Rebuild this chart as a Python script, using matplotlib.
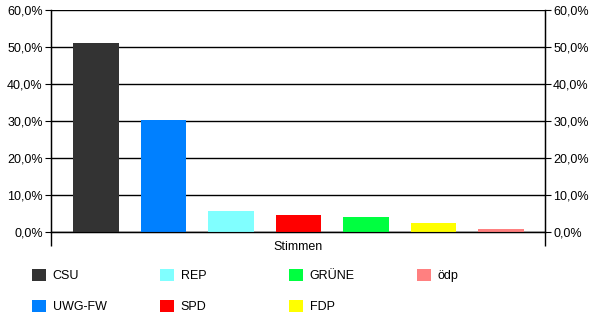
import matplotlib.pyplot as plt
from matplotlib.ticker import FuncFormatter

plt.rcParams['font.family'] = ['Liberation Sans', 'DejaVu Sans']

# Daten
parteien = ['CSU', 'UWG-FW', 'REP', 'SPD', 'GRÜNE', 'FDP', 'ödp']
anteile = [51.1, 30.3, 5.7, 4.6, 4.0, 2.4, 0.8]
farben = ['#333333', '#0080FF', '#80FFFF', '#FF0000', '#00FF40', '#FFFF00', '#FF8080']
y_ticks = [0, 10, 20, 30, 40, 50, 60]

fig = plt.figure(figsize=(6, 3.26), dpi=100)
ax = fig.add_axes([0.085, 0.288, 0.823, 0.681])

x = list(range(len(parteien)))
bars = ax.bar(x, anteile, width=0.68, color=farben, zorder=3)

xmin, xmax = -0.667, 6.65
ax.set_xlim(xmin, xmax)
ax.set_ylim(0, 60)

fmt = FuncFormatter(lambda v, p: f'{v:.1f}%'.replace('.', ','))
ax.set_yticks(y_ticks)
ax.yaxis.set_major_formatter(fmt)
ax.grid(axis='y', color='black', linewidth=1, zorder=1)
ax.tick_params(axis='y', direction='out', length=4, labelsize=9, pad=2)

ax.set_xticks([xmin, xmax])
ax.set_xticklabels(['', ''])
ax.tick_params(axis='x', direction='out', length=10, width=1)
ax.set_xlabel('Stimmen', fontsize=9, labelpad=-7)

ax.spines['top'].set_visible(False)
for s in ['left', 'right', 'bottom']:
    ax.spines[s].set_linewidth(1)

ax2 = ax.twinx()
ax2.set_ylim(0, 60)
ax2.set_yticks(y_ticks)
ax2.yaxis.set_major_formatter(fmt)
ax2.tick_params(axis='y', direction='out', length=4, labelsize=9, pad=2)
ax2.spines['top'].set_visible(False)

# Legende: vier Spalten mit festen Abständen
spalten_x = [32, 160, 289, 417]
for i, sx in enumerate(spalten_x):
    h = bars.patches[2 * i:2 * i + 2]
    l = parteien[2 * i:2 * i + 2]
    fig.legend(handles=h, labels=l, loc='upper left',
               bbox_to_anchor=(sx / 600, 1 - 269 / 326), frameon=False,
               fontsize=9, handlelength=1.15, handleheight=1.15,
               handletextpad=0.5, labelspacing=1.4,
               borderpad=0, borderaxespad=0)

plt.savefig('out.png', dpi=100)
